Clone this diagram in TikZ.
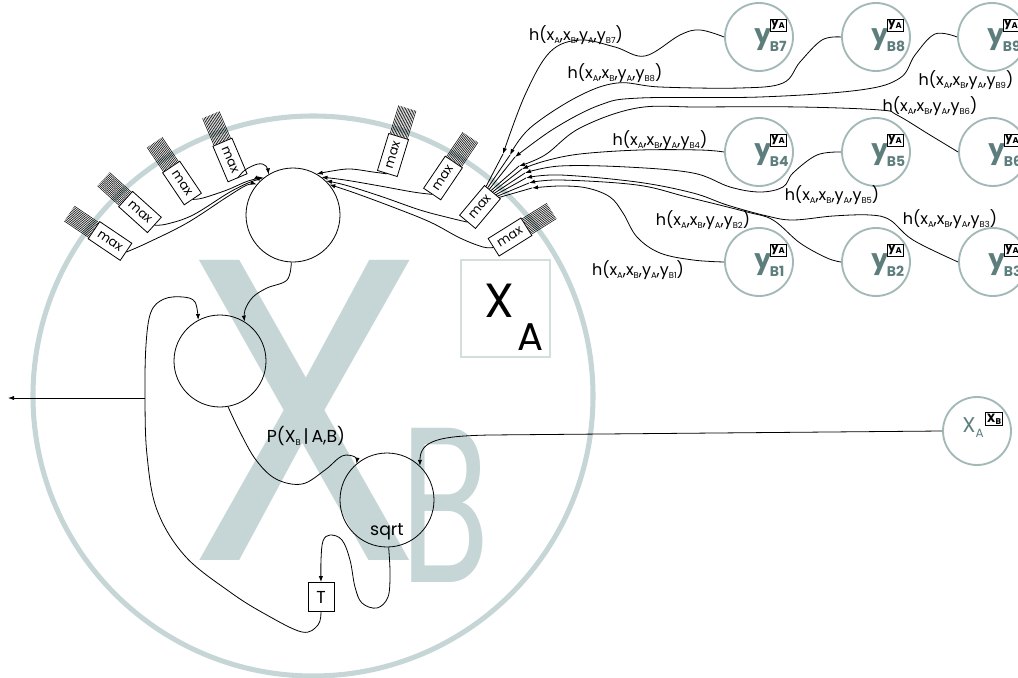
\documentclass[tikz,border=0pt]{standalone}
\usepackage{fontspec}
\setmainfont{Poppins}
\usetikzlibrary{calc,arrows.meta}
\definecolor{bigc}{HTML}{C6D6D6}
\definecolor{circc}{HTML}{A3B9B8}
\definecolor{ytc}{HTML}{5E7E7E}
\definecolor{boxc}{HTML}{D3DFDF}
\newcommand\lo[1]{\raisebox{-0.3ex}{\fontsize{6.3}{6.3}\selectfont #1}}
\newcommand\hl[1]{h(x\lo{A},x\lo{B},y\lo{A},y\lo{B#1})}
\newcommand\comb[3]{\foreach \t in {0.08,0.15,...,0.93}{\draw[combl] ($(#1.north #2)!\t!(#1.south #2)$) -- ++(#3:22pt);}}
\newcommand\ynode[3]{%
 \node[ycirc] (#1) at (#2) {};
 \node[ytxt, anchor=base west] (#1t) at ($(#1)+(-5,6)$) {y\kern-1pt\raisebox{-6pt}{\fontsize{10.5}{10.5}\selectfont #3}};
 \node[yabox] (#1b) at ($(#1)+(19,-12)$) {y\lo{A}};
}
\tikzset{
 every node/.style={inner sep=0pt},
 ln/.style={line width=0.6pt},
 arr/.style={ln,-{Latex[length=4.5pt,width=3.2pt]}},
 maxbox/.style={draw,line width=0.6pt,minimum width=29pt,minimum height=15.5pt,font=\fontsize{9.5}{9.5}\selectfont,fill=white},
 combl/.style={line width=0.4pt},
 ycirc/.style={circle,draw=circc,line width=1.4pt,minimum size=51pt},
 ytxt/.style={font=\bfseries\fontsize{20}{20}\selectfont,text=ytc},
 yabox/.style={draw,line width=0.6pt,inner sep=0.8pt,fill=white,font=\bfseries\fontsize{9}{9}\selectfont},
 lab/.style={font=\fontsize{12}{12}\selectfont},
 bc/.style={circle,draw,ln},
}
\begin{document}
\begin{tikzpicture}[x=0.75pt,y=-0.75pt]
\useasboundingbox (0,0) rectangle (1018,678);
% background
\draw[bigc, line width=3.8pt] (313,396) circle[radius=210pt];
\node[anchor=base, xscale=0.92, text=bigc, font=\fontsize{323}{323}\selectfont] (bx) at (305,560) {X};
\node[anchor=base, xscale=0.66, text=bigc, font=\fontsize{166}{166}\selectfont] (bb) at (445,582) {B};
% X_A box
\node[draw=boxc, line width=0.8pt, minimum width=66.75pt, minimum height=72.75pt] (XAbox) at (505.5,308.5) {};
\node[anchor=base west, font=\fontsize{36}{36}\selectfont] (XAx) at (484,317) {X};
\node[anchor=base west, font=\fontsize{29}{29}\selectfont] (XAa) at (517,350) {A};
% circles
\node[bc, minimum size=70.5pt] (C1) at (293,215) {};
\node[bc, minimum size=69pt] (C2) at (220,361) {};
\node[bc, minimum size=70.5pt] (C3) at (387,500) {};
\node[font=\fontsize{13}{13}\selectfont] (sq) at (387,532) {sqrt};
\node[draw, ln, minimum width=19.5pt, minimum height=21.75pt, font=\fontsize{13}{13}\selectfont] (T) at (321,597) {T};
% max boxes
\node[maxbox, rotate=-34] (M1) at (110,241) {max};
\node[maxbox, rotate=-42] (M2) at (140,212) {max};
\node[maxbox, rotate=-56] (M3) at (182,183) {max};
\node[maxbox, rotate=-67] (M4) at (230,160) {max};
\node[maxbox, rotate=73] (M5) at (393,155) {max};
\node[maxbox, rotate=56] (M6) at (443,178) {max};
\node[maxbox, rotate=50] (M7) at (480,207) {max};
\node[maxbox, rotate=32] (M8) at (510,237) {max};
\comb{M1}{west}{146}
\comb{M2}{west}{138}
\comb{M3}{west}{124}
\comb{M4}{west}{113}
\comb{M5}{east}{73}
\comb{M6}{east}{56}
\comb{M8}{east}{32}
% y nodes
\ynode{yB7}{759,37}{B7}
\ynode{yB8}{876,37}{B8}
\ynode{yB9}{992,37}{B9}
\ynode{yB4}{759,152}{B4}
\ynode{yB5}{876,152}{B5}
\ynode{yB6}{993,152}{B6}
\ynode{yB1}{759,262}{B1}
\ynode{yB2}{876,262}{B2}
\ynode{yB3}{993,262}{B3}
% X_A^{X_B} node
\node[ycirc] (XA) at (977,431) {};
\node[anchor=base west, text=ytc, font=\fontsize{16}{16}\selectfont] (XAt) at (962,432) {X\raisebox{-4pt}{\fontsize{9}{9}\selectfont A}};
\node[yabox] (XAb) at (994,419) {X\lo{B}};
% labels
\node[lab] (lB7) at (576,35) {\hl{7}};
\node[lab] (lB8) at (615,73) {\hl{8}};
\node[lab] (lB9) at (966,80) {\hl{9}};
\node[lab] (lB6) at (930,106) {\hl{6}};
\node[lab] (lB4) at (660,140) {\hl{4}};
\node[lab] (lB5) at (832,195) {\hl{5}};
\node[lab] (lB2) at (703,220) {\hl{2}};
\node[lab] (lB3) at (950,219) {\hl{3}};
\node[lab] (lB1) at (638,270) {\hl{1}};
\node[lab, font=\fontsize{13}{13}\selectfont] (lP) at (306,436) {P(X\lo{B}\,|\,A,B)};
% ports
\coordinate (p1) at (503,154);
\coordinate (p2) at (510,155);
\coordinate (p3) at (515,157);
\coordinate (p4) at (519,166);
\coordinate (p5) at (522,169);
\coordinate (p6) at (525,173);
\coordinate (p7) at (526,178);
\coordinate (p8) at (529,183);
\coordinate (p9) at (532,188);
\foreach \t/\p in {0.1/p1,0.2/p2,0.3/p3,0.4/p4,0.5/p5,0.6/p6,0.7/p7,0.8/p8,0.9/p9}
  {\draw[ln] ($(M7.north east)!\t!(M7.south east)$) -- (\p);}
% h edges
\draw[arr] plot[smooth, tension=0.6] coordinates {(yB7.west) (700,30) (680,35) (645,56) (615,47) (580,40) (550,52) (525,95) (p1)};
\draw[arr] plot[smooth, tension=0.6] coordinates {(yB8.west) (822,40) (800,62) (783,83) (740,88) (660,87) (617,83) (577,97) (530,128) (p2)};
\draw[arr] plot[smooth, tension=0.6] coordinates {(yB9.west) (935,34) (915,55) (900,78) (860,90) (760,97) (640,98) (600,105) (555,128) (p3)};
\draw[arr] plot[smooth, tension=0.6] coordinates {(yB6.west) (930,135) (897,115) (880,110) (800,107) (700,107) (637,108) (580,128) (545,155) (p4)};
\draw[arr] plot[smooth, tension=0.6] coordinates {(yB4.west) (700,150) (640,150) (580,154) (545,161) (p5)};
\draw[arr] plot[smooth, tension=0.6] coordinates {(yB5.west) (817,155) (793,173) (783,187) (760,192) (730,187) (693,173) (627,167) (560,166) (p6)};
\draw[arr] plot[smooth, tension=0.6] coordinates {(yB3.west) (913,240) (890,220) (870,215) (833,216) (793,220) (767,216) (727,205) (693,193) (637,182) (560,175) (p7)};
\draw[arr] plot[smooth, tension=0.6] coordinates {(yB2.west) (827,258) (800,243) (773,220) (747,212) (687,197) (637,185) (560,180) (p8)};
\draw[arr] plot[smooth, tension=0.6] coordinates {(yB1.west) (693,260) (660,253) (637,237) (623,213) (610,197) (587,188) (560,186) (p9)};
% max -> C1
\draw[arr] plot[smooth, tension=0.6] coordinates {(M1.east) (147,243) (187,223) (227,197) (247,185) (C1.140)};
\draw[arr] plot[smooth, tension=0.6] coordinates {(M2.east) (167,224) (193,215) (230,192) (253,181) (C1.134)};
\draw[arr] plot[smooth, tension=0.6] coordinates {(M3.east) (203,198) (227,190) (248,181) (C1.128)};
\draw[arr] plot[smooth, tension=0.6] coordinates {(M4.east) (245,170) (258,164) (266,166) (C1.121)};
\draw[arr] plot[smooth, tension=0.6] coordinates {(M5.west) (373,172) (350,169) (332,171) (C1.60)};
\draw[arr] plot[smooth, tension=0.6] coordinates {(M6.west) (413,192) (380,186) (345,180) (C1.53)};
\draw[arr] plot[smooth, tension=0.6] coordinates {(M7.west) (450,218) (420,210) (380,196) (345,185) (C1.46)};
\draw[arr] plot[smooth, tension=0.6] coordinates {(M8.west) (483,247) (460,238) (430,222) (390,206) (352,192) (C1.40)};
% C1 -> C2
\draw[arr] plot[smooth, tension=0.6] coordinates {(C1.-92) (287,280) (267,288) (253,297) (245,310) (C2.58)};
% T feedback
\coordinate (br) at (145,398);
\coordinate (outl) at (8,398);
\draw[arr] plot[smooth, tension=0.6] coordinates {(T.south) (318,625) (302,632) (265,614) (230,592) (185,556) (157,510) (147,455) (br) (146,345) (151,312) (164,299) (183,297) (195,302) (C2.118)};
\draw[arr] (br) -- (outl);
% C2 -> C3
\draw[arr] plot[smooth, tension=0.6] coordinates {(C2.-80) (240,432) (256,460) (276,479) (302,484) (325,470) (342,456) (355,457) (C3.130)};
% XA -> C3
\draw[arr] (XA.west) -- (490,435) .. controls (440,436) and (420,440) .. (C3.46);
% C3 -> T
\draw[arr] plot[smooth, tension=0.6] coordinates {(C3.-88) (390,573) (388,597) (377,608) (362,603) (355,587) (350,560) (342,540) (330,535) (323,541) (321,560) (T.north)};
\end{tikzpicture}
\end{document}
